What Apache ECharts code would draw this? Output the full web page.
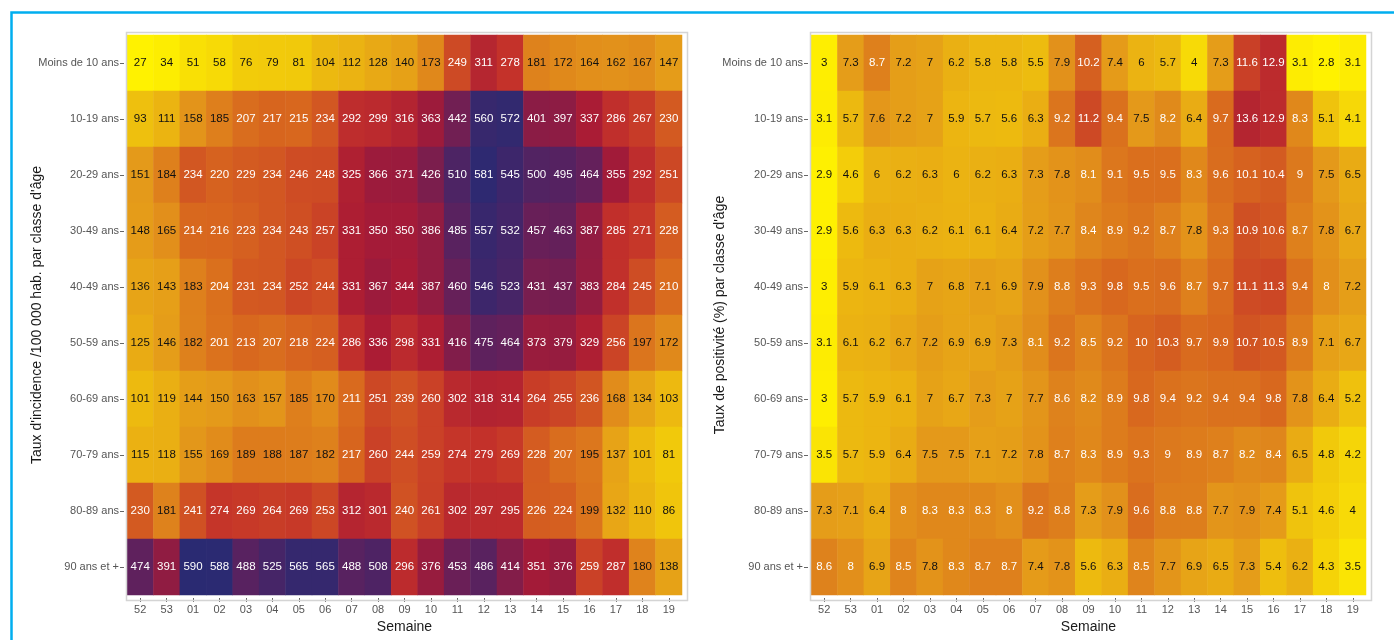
<!DOCTYPE html>
<html>
<head>
<meta charset="utf-8">
<script src="https://cdn.jsdelivr.net/npm/echarts@6/dist/echarts.min.js"></script>
<style>
  html, body { margin: 0; padding: 0; background: #fff; }
  #main { width: 1394px; height: 640px; }
</style>
</head>
<body>
<div id="main"></div>
<script>
// semaines (axe x)
var semaines = ['52','53','01','02','03','04','05','06','07','08','09','10','11','12','13','14','15','16','17','18','19'];
// classes d'age (axe y)
var classesAge = ['Moins de 10 ans','10-19 ans','20-29 ans','30-49 ans','40-49 ans','50-59 ans','60-69 ans','70-79 ans','80-89 ans','90 ans et +'];

// taux d'incidence /100 000 hab.
var incidence = [
    [27,34,51,58,76,79,81,104,112,128,140,173,249,311,278,181,172,164,162,167,147],
    [93,111,158,185,207,217,215,234,292,299,316,363,442,560,572,401,397,337,286,267,230],
    [151,184,234,220,229,234,246,248,325,366,371,426,510,581,545,500,495,464,355,292,251],
    [148,165,214,216,223,234,243,257,331,350,350,386,485,557,532,457,463,387,285,271,228],
    [136,143,183,204,231,234,252,244,331,367,344,387,460,546,523,431,437,383,284,245,210],
    [125,146,182,201,213,207,218,224,286,336,298,331,416,475,464,373,379,329,256,197,172],
    [101,119,144,150,163,157,185,170,211,251,239,260,302,318,314,264,255,236,168,134,103],
    [115,118,155,169,189,188,187,182,217,260,244,259,274,279,269,228,207,195,137,101,81],
    [230,181,241,274,269,264,269,253,312,301,240,261,302,297,295,226,224,199,132,110,86],
    [474,391,590,588,488,525,565,565,488,508,296,376,453,486,414,351,376,259,287,180,138]
];

// taux de positivite (%)
var positivite = [
    [3,7.3,8.7,7.2,7,6.2,5.8,5.8,5.5,7.9,10.2,7.4,6,5.7,4,7.3,11.6,12.9,3.1,2.8,3.1],
    [3.1,5.7,7.6,7.2,7,5.9,5.7,5.6,6.3,9.2,11.2,9.4,7.5,8.2,6.4,9.7,13.6,12.9,8.3,5.1,4.1],
    [2.9,4.6,6,6.2,6.3,6,6.2,6.3,7.3,7.8,8.1,9.1,9.5,9.5,8.3,9.6,10.1,10.4,9,7.5,6.5],
    [2.9,5.6,6.3,6.3,6.2,6.1,6.1,6.4,7.2,7.7,8.4,8.9,9.2,8.7,7.8,9.3,10.9,10.6,8.7,7.8,6.7],
    [3,5.9,6.1,6.3,7,6.8,7.1,6.9,7.9,8.8,9.3,9.8,9.5,9.6,8.7,9.7,11.1,11.3,9.4,8,7.2],
    [3.1,6.1,6.2,6.7,7.2,6.9,6.9,7.3,8.1,9.2,8.5,9.2,10,10.3,9.7,9.9,10.7,10.5,8.9,7.1,6.7],
    [3,5.7,5.9,6.1,7,6.7,7.3,7,7.7,8.6,8.2,8.9,9.8,9.4,9.2,9.4,9.4,9.8,7.8,6.4,5.2],
    [3.5,5.7,5.9,6.4,7.5,7.5,7.1,7.2,7.8,8.7,8.3,8.9,9.3,9,8.9,8.7,8.2,8.4,6.5,4.8,4.2],
    [7.3,7.1,6.4,8,8.3,8.3,8.3,8,9.2,8.8,7.3,7.9,9.6,8.8,8.8,7.7,7.9,7.4,5.1,4.6,4],
    [8.6,8,6.9,8.5,7.8,8.3,8.7,8.7,7.4,7.8,5.6,6.3,8.5,7.7,6.9,6.5,7.3,5.4,6.2,4.3,3.5]
];

// palette jaune -> rouge -> violet
var palette = ['#fff200','#efc20d','#e4991a','#d8671e','#c4322a','#a91b35','#8a1c45','#63205b','#452568','#2a2a72'];

var fontFam = "'Liberation Sans', Arial, sans-serif";

// construit les donnees du heatmap, etiquette blanche au-dessus du seuil
function buildData(table, seuil){
    var out = [];
    for(var i = 0; i < table.length; i++){
        for(var j = 0; j < table[i].length; j++){
            var v = table[i][j];
            out.push({
                value: [j, i, v],
                label: { color: v >= seuil ? '#ffffff' : '#111111' }
            });
        }
    }
    return out;
}

var grids = [
    { left: 127, top: 35, width: 555, height: 560 },
    { left: 811, top: 35, width: 555, height: 560 }
];

function xAxisFor(idx){
    return {
        type: 'category',
        gridIndex: idx,
        data: semaines,
        offset: 3,
        axisLine: { show: false },
        axisTick: { show: true, alignWithLabel: true, length: 4, lineStyle: { color: '#666' } },
        axisLabel: { color: '#555', fontSize: 11, margin: 6, fontFamily: fontFam },
        splitLine: { show: false },
        name: 'Semaine',
        nameLocation: 'middle',
        nameGap: 22,
        nameTextStyle: { color: '#1a1a1a', fontSize: 14, fontFamily: fontFam }
    };
}

function yAxisFor(idx, titre, gap){
    return {
        type: 'category',
        gridIndex: idx,
        data: classesAge,
        inverse: true,
        offset: 3,
        axisLine: { show: false },
        axisTick: { show: true, alignWithLabel: true, length: 4, lineStyle: { color: '#666' } },
        axisLabel: { color: '#555', fontSize: 11, margin: 5, fontFamily: fontFam },
        splitLine: { show: false },
        name: titre,
        nameLocation: 'middle',
        nameGap: gap,
        nameMoveOverlap: false,
        nameTextStyle: { color: '#1a1a1a', fontSize: 14, fontFamily: fontFam }
    };
}

var myChart = echarts.init(document.getElementById('main'));

var option = {
    backgroundColor: '#ffffff',
    animation: false,
    graphic: [
        // cadre bleu
        { type: 'rect', left: 9, top: 10, shape: { width: 1400, height: 700 },
          style: { fill: 'none', stroke: '#00aeef', lineWidth: 2.5 }, z: 100 },
        // cadres des panneaux
        { type: 'rect', left: 124, top: 30, shape: { width: 561, height: 568 },
          style: { fill: 'none', stroke: '#d4d4d4', lineWidth: 1.5 }, z: 100 },
        { type: 'rect', left: 808, top: 30, shape: { width: 561, height: 568 },
          style: { fill: 'none', stroke: '#d4d4d4', lineWidth: 1.5 }, z: 100 }
    ],
    grid: grids,
    xAxis: [xAxisFor(0), xAxisFor(1)],
    yAxis: [
        yAxisFor(0, "Taux d'incidence /100 000 hab. par classe d'âge", 80),
        yAxisFor(1, "Taux de positivité (%) par classe d'âge", 81)
    ],
    visualMap: [
        { show: false, seriesIndex: 0, dimension: 2, min: 27, max: 590, inRange: { color: palette } },
        { show: false, seriesIndex: 1, dimension: 2, min: 2.8, max: 24, inRange: { color: palette } }
    ],
    series: [
        {
            type: 'heatmap',
            xAxisIndex: 0,
            yAxisIndex: 0,
            data: buildData(incidence, 200),
            label: { show: true, fontSize: 11.5, fontFamily: fontFam },
            itemStyle: { borderWidth: 0 }
        },
        {
            type: 'heatmap',
            xAxisIndex: 1,
            yAxisIndex: 1,
            data: buildData(positivite, 8),
            label: { show: true, fontSize: 11.5, fontFamily: fontFam },
            itemStyle: { borderWidth: 0 }
        }
    ]
};
myChart.setOption(option);
</script>
</body>
</html>
